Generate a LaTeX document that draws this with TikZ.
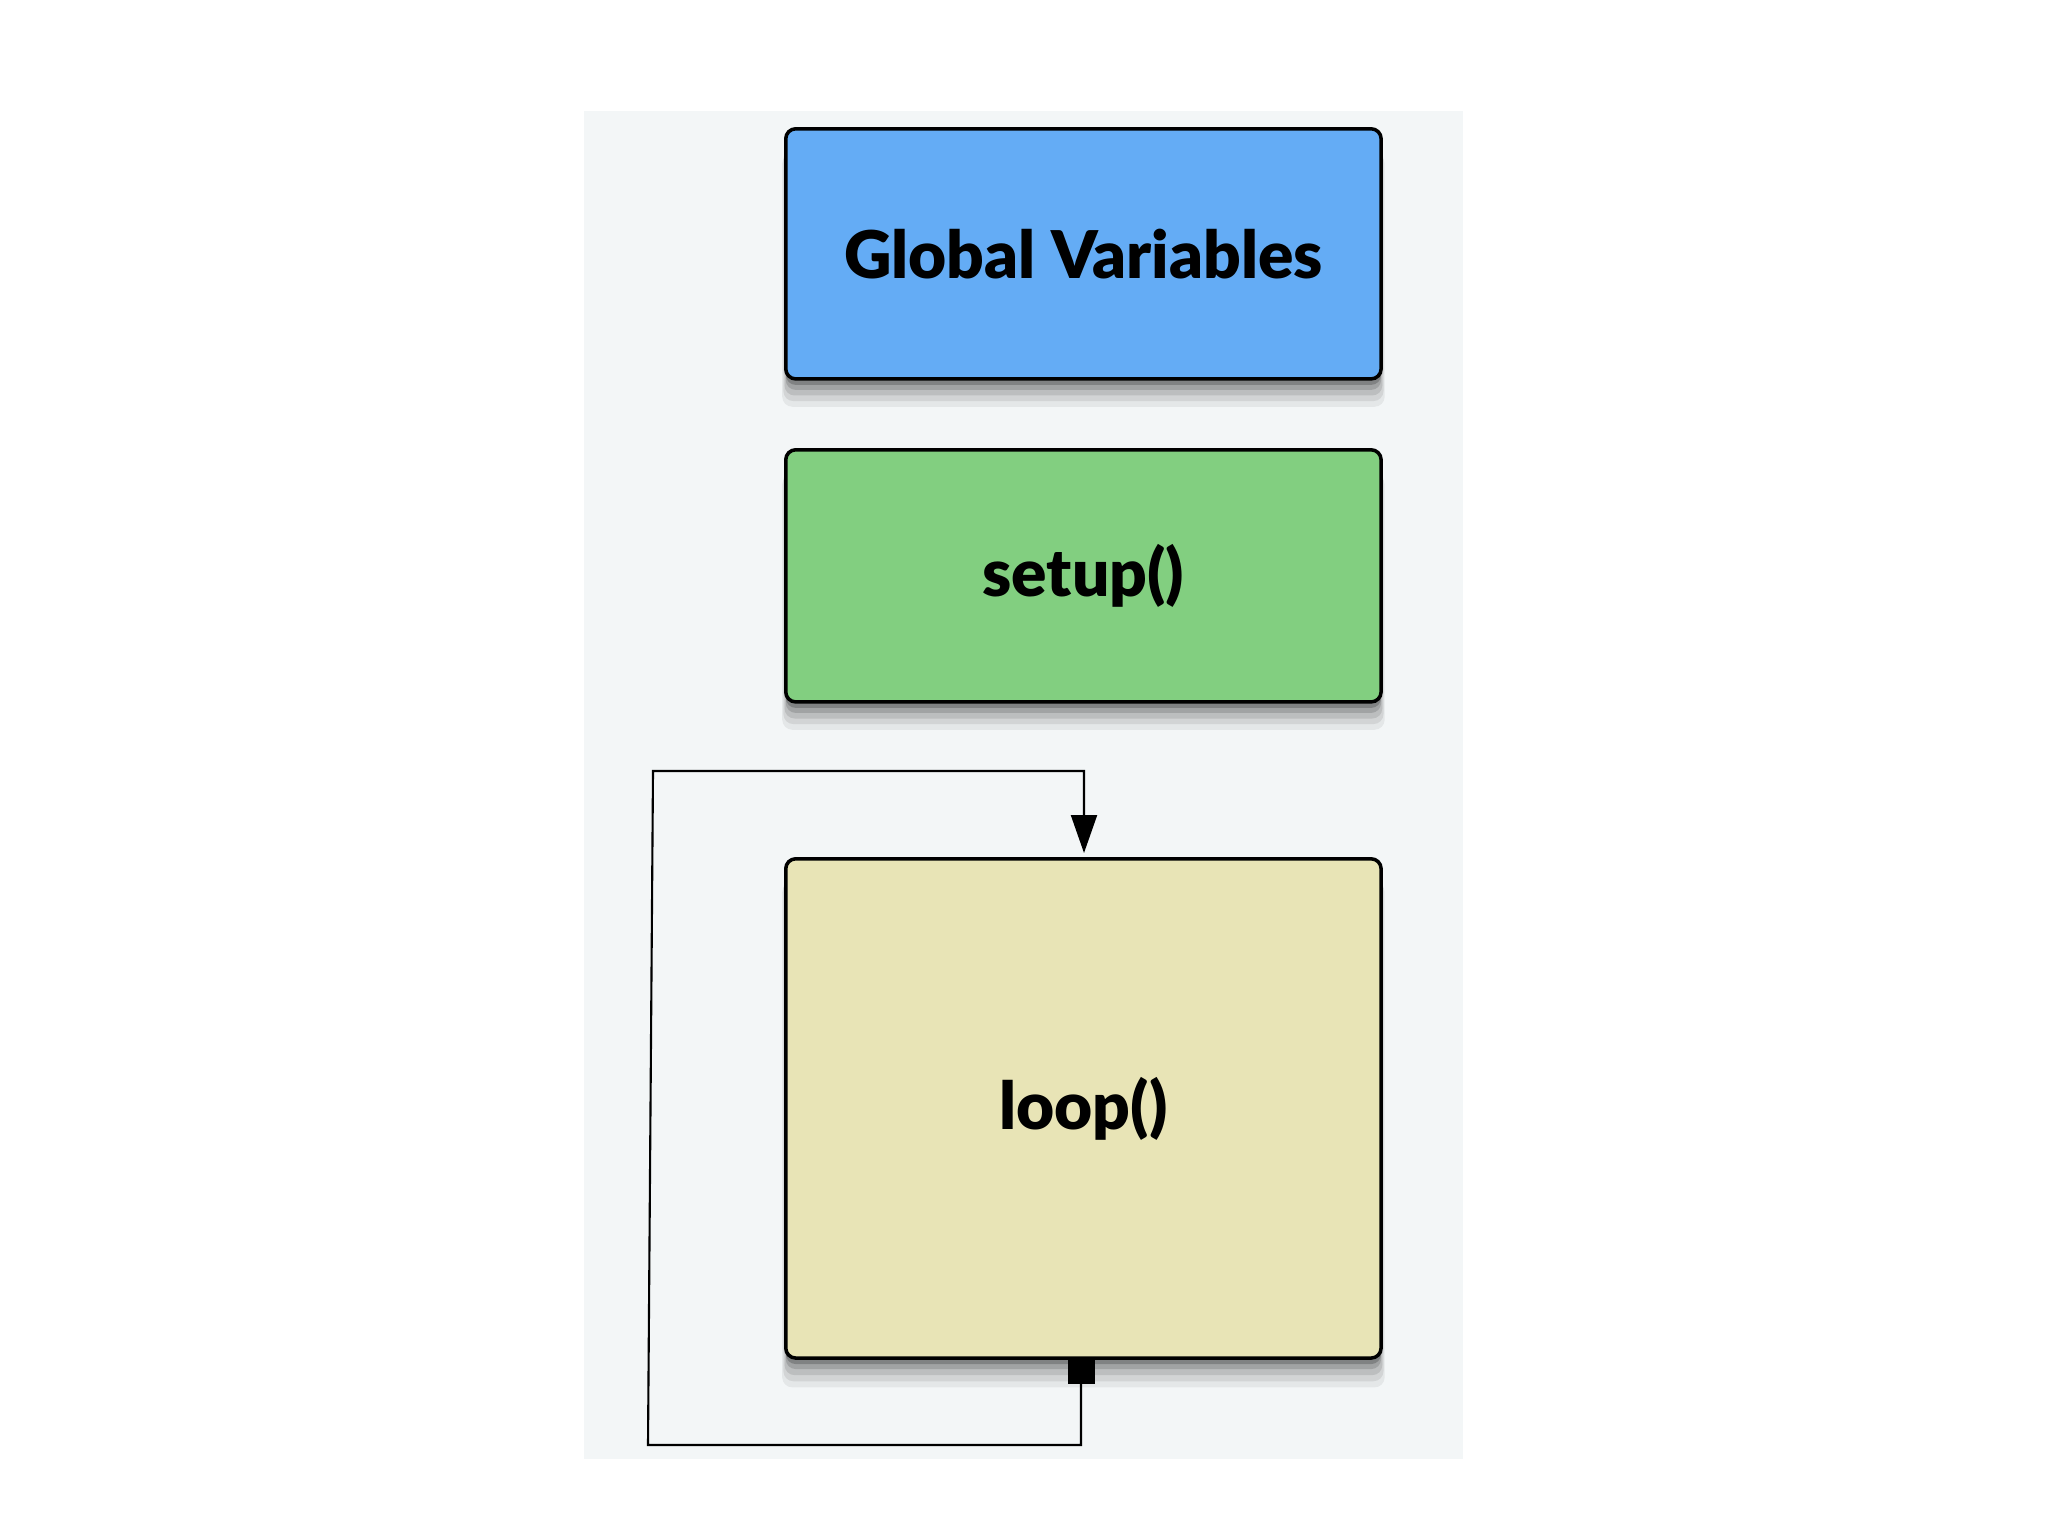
\documentclass[tikz,border=0pt]{standalone}
\usepackage{fontspec}
\setmainfont{Lato}
\newfontfamily\heavyfont{Lato Black}
\usetikzlibrary{shadows,arrows.meta}
\definecolor{panel}{HTML}{F3F6F7}
\definecolor{gvblue}{HTML}{64ACF5}
\definecolor{setupgreen}{HTML}{82CF80}
\definecolor{loopyellow}{HTML}{E8E4B6}
\tikzset{
  px/.style={x=0.01cm,y=-0.01cm},
  blockbox/.style={draw=black, line width=1pt, rounded corners=0.1cm,
    inner sep=0pt, anchor=north west,
    font=\heavyfont\fontsize{18.7}{22}\selectfont,
    general shadow={fill=black, opacity=0.06, shadow xshift=0pt, shadow yshift=-0.26cm, shadow scale=1.012},
    general shadow={fill=black, opacity=0.08, shadow xshift=0pt, shadow yshift=-0.21cm, shadow scale=1.008},
    general shadow={fill=black, opacity=0.1, shadow xshift=0pt, shadow yshift=-0.16cm, shadow scale=1.004},
    general shadow={fill=black, opacity=0.14, shadow xshift=0pt, shadow yshift=-0.11cm},
    general shadow={fill=black, opacity=0.2, shadow xshift=0pt, shadow yshift=-0.06cm}},
  conn/.style={draw=black, line width=0.6pt},
}
\begin{document}
\begin{tikzpicture}[px]
\useasboundingbox (0,0) rectangle (2048,1535);
\fill[white] (0,0) rectangle (2048,1535);
\fill[panel] (584,111) rectangle (1463,1459);
% boxes
\node[blockbox, fill=gvblue, minimum width=5.95cm, minimum height=2.50cm] (gv) at (784,127) {Global Variables};
\node[blockbox, fill=setupgreen, minimum width=5.95cm, minimum height=2.52cm] (setup) at (784,448) {setup()};
\node[blockbox, fill=loopyellow, minimum width=5.95cm, minimum height=4.99cm] (loop) at (784,857) {loop()};
% loop connector
\coordinate (sq) at (1081,1357);
\coordinate (c1) at (1081,1445);
\coordinate (c2) at (648,1445);
\coordinate (c3) at (653,771);
\coordinate (c4) at (1084,771);
\coordinate (tip) at (1084,853);
\fill[black] (1068,1357) rectangle (1095,1384);
\draw[conn, -{Triangle[length=0.38cm,width=0.26cm]}] (sq) -- (c1) -- (c2) -- (c3) -- (c4) -- (tip);
\end{tikzpicture}
\end{document}
